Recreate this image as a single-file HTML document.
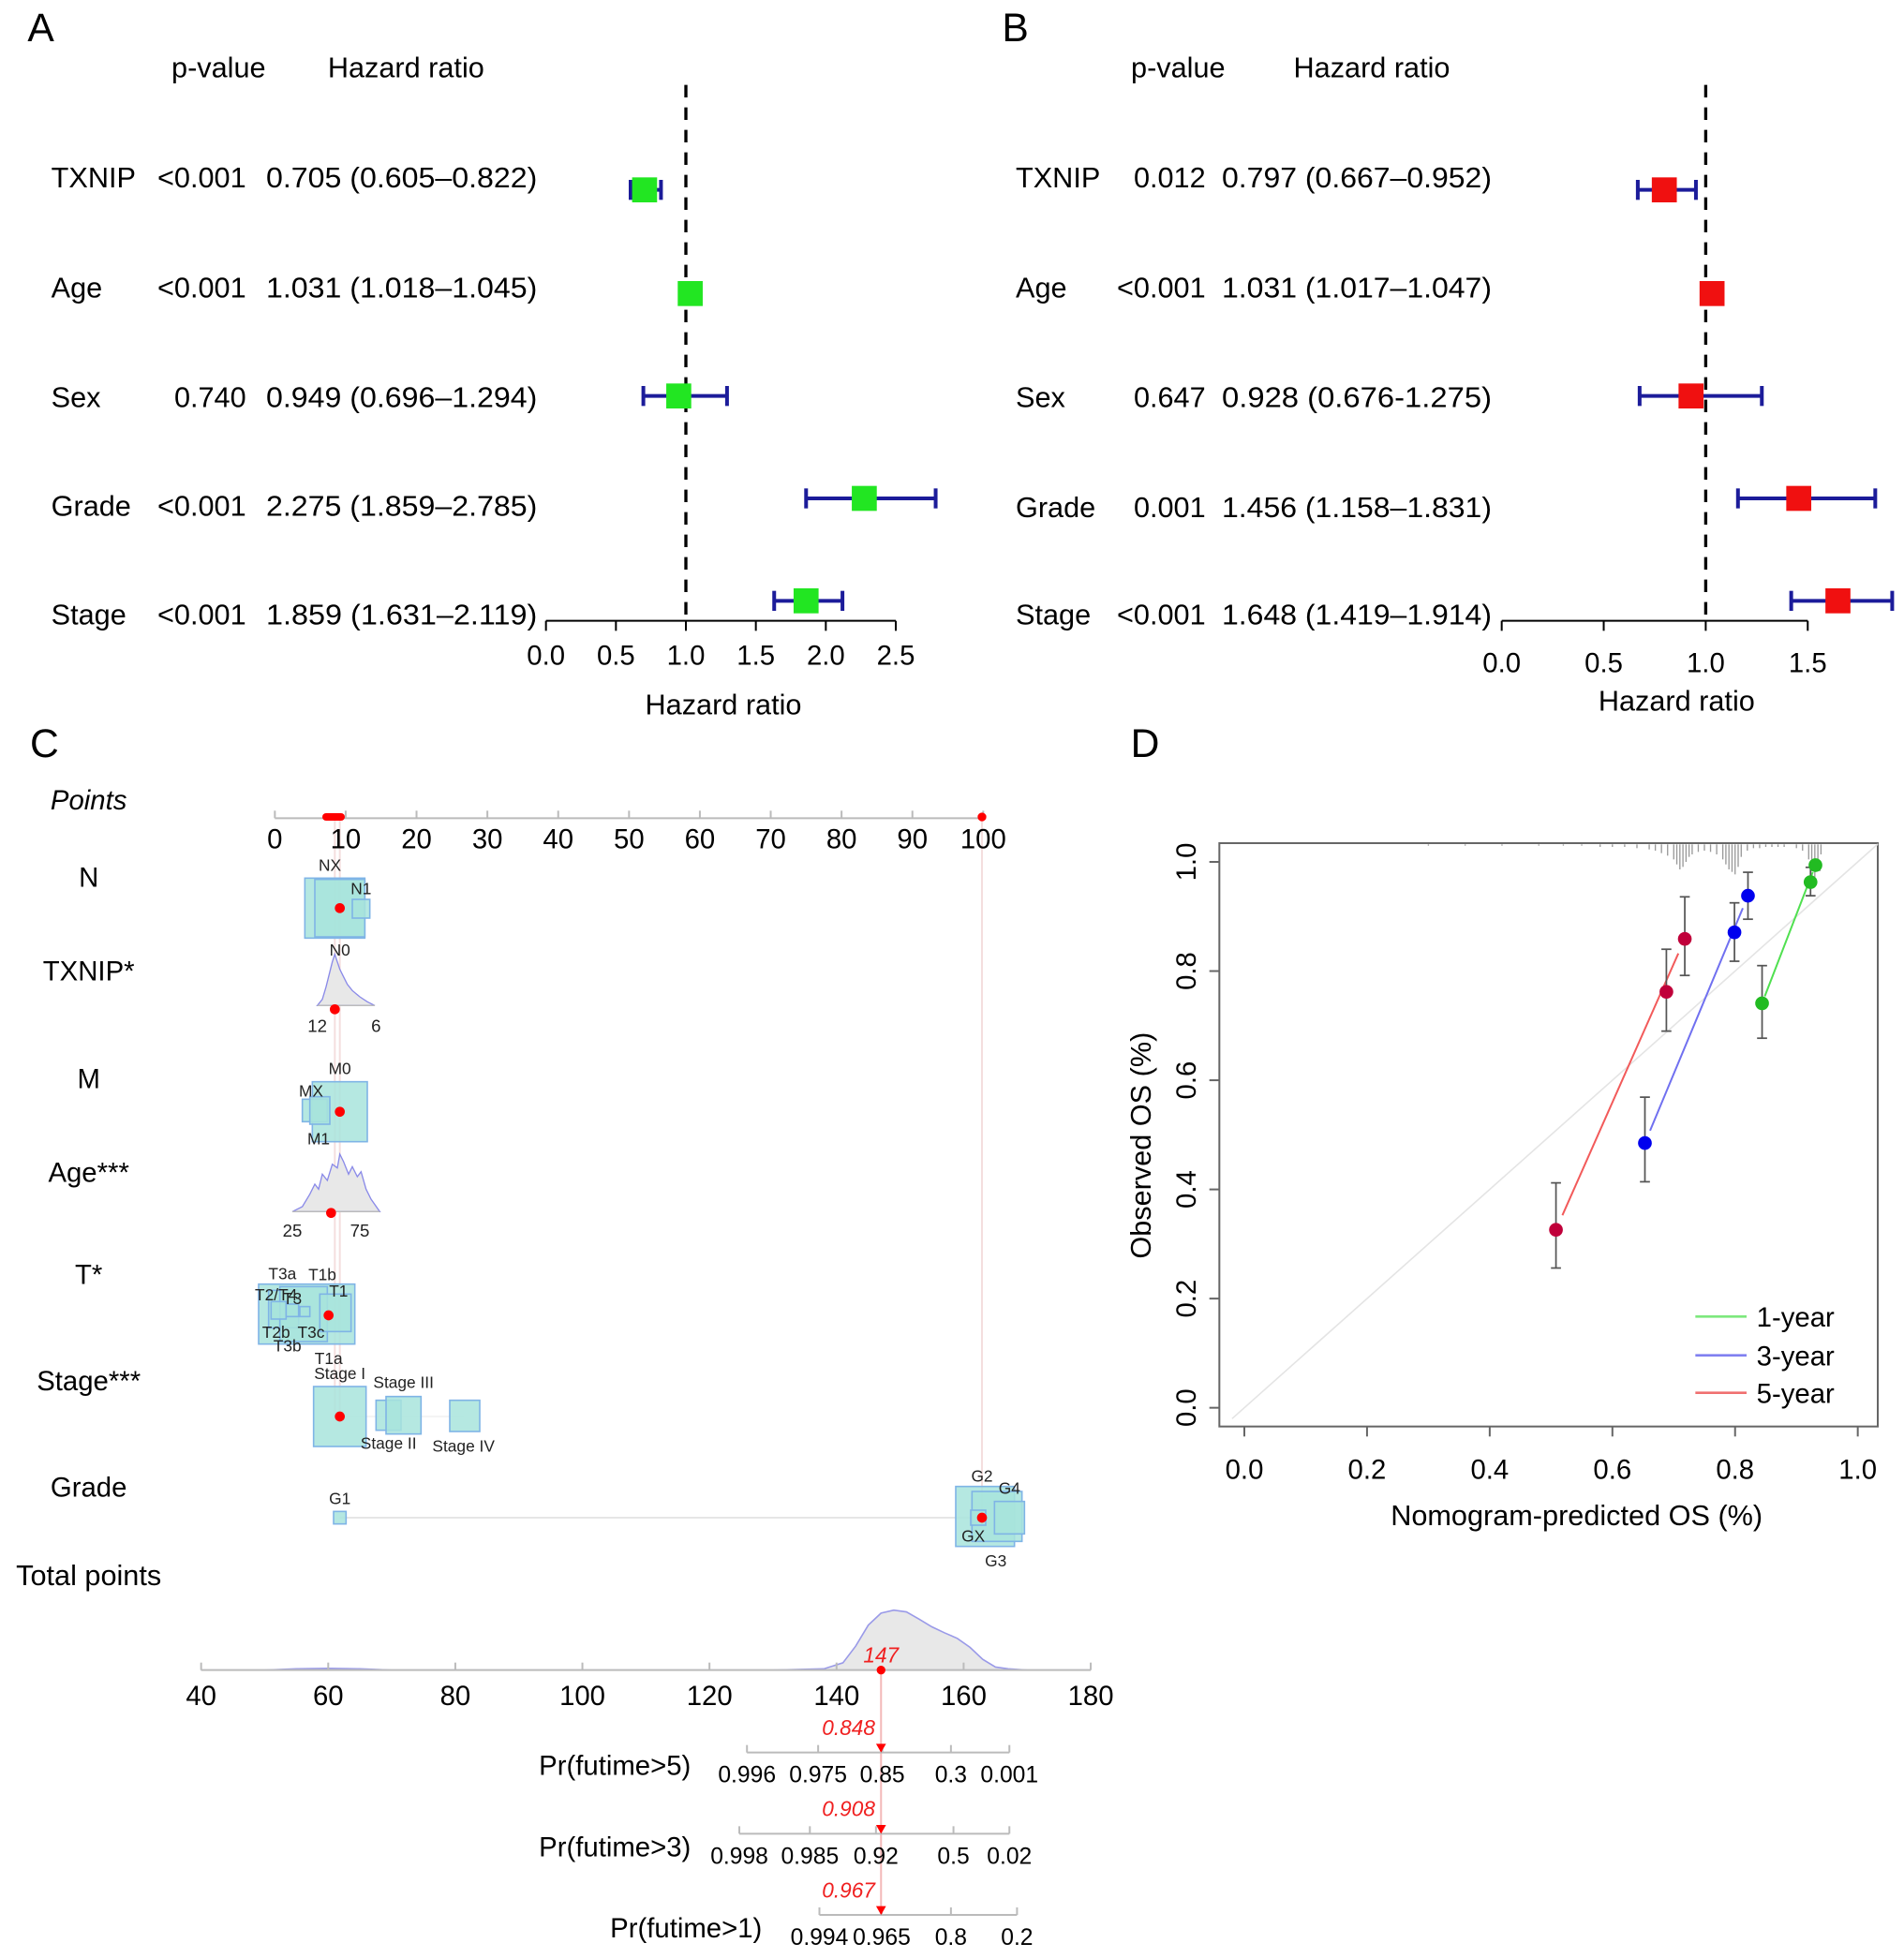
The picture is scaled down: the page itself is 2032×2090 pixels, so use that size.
<!DOCTYPE html>
<html><head><meta charset="utf-8"><style>
html,body{margin:0;padding:0;background:#fff}
svg{display:block;font-family:"Liberation Sans",Arial,sans-serif}
</style></head><body>
<svg id="fig" xmlns="http://www.w3.org/2000/svg" width="2032" height="2090" viewBox="0 0 1524 1567.5">
<g id="pA"></g>
<g id="pB"></g>
<g id="pC"></g>
<g id="pD"></g>
</svg>
<script>
// ---------- data ----------
const varsAB = ["TXNIP","Age","Sex","Grade","Stage"];
const pA = ["<0.001","<0.001","0.740","<0.001","<0.001"];
const hrA = [0.705,1.031,0.949,2.275,1.859];
const loA = [0.605,1.018,0.696,1.859,1.631];
const hiA = [0.822,1.045,1.294,2.785,2.119];
const ticksA = [0,0.5,1,1.5,2,2.5];
const pB = ["0.012","<0.001","0.647","0.001","<0.001"];
const hrB = [0.797,1.031,0.928,1.456,1.648];
const loB = [0.667,1.017,0.676,1.158,1.419];
const hiB = [0.952,1.047,1.275,1.831,1.914];
const ticksB = [0,0.5,1,1.5];

const pointsTicks = [0,10,20,30,40,50,60,70,80,90,100];
const totalTicks = [40,60,80,100,120,140,160,180];
const totalDensX = [40,50,55,60,65,70,100,130,138,141,143,145,147,149,151,153,155,157,159,161,163,165,167,170,180];
const totalDensY = [0,0,0.02,0.03,0.02,0,0,0,0.02,0.12,0.4,0.75,0.95,1.0,0.97,0.85,0.72,0.62,0.53,0.38,0.18,0.05,0.02,0,0];
const totalScore = [147];
const probLabels = ["Pr(futime>5)","Pr(futime>3)","Pr(futime>1)"];
const probTickLabels = [["0.996","0.975","0.85","0.3","0.001"],["0.998","0.985","0.92","0.5","0.02"],["0.994","0.965","0.8","0.2"]];
const probTickTotals = [[125.9,137.1,147.2,158.0,167.2],[124.7,135.8,146.2,158.4,167.2],[137.3,147.1,158.0,168.4]];
const probValues = ["0.848","0.908","0.967"];

const calX1 = [0.844,0.923,0.931], calY1 = [0.741,0.963,0.994], calLo1 = [0.677,0.938,0.985], calHi1 = [0.81,0.99,1.0];
const calX3 = [0.653,0.799,0.821], calY3 = [0.485,0.871,0.938], calLo3 = [0.414,0.818,0.895], calHi3 = [0.569,0.925,0.981];
const calX5 = [0.508,0.688,0.718], calY5 = [0.326,0.762,0.859], calLo5 = [0.256,0.69,0.792], calHi5 = [0.412,0.84,0.936];
const calTicks = [0,0.2,0.4,0.6,0.8,1.0];
const rugX = [0.30,0.36,0.42,0.48,0.52,0.55,0.58,0.6,0.62,0.64,0.66,0.67,0.68,0.69,0.7,0.705,0.71,0.715,0.72,0.725,0.73,0.74,0.75,0.76,0.77,0.78,0.785,0.79,0.795,0.8,0.805,0.81,0.82,0.83,0.84,0.85,0.86,0.87,0.88,0.9,0.91,0.92,0.925,0.93,0.935,0.94];
const rugH = [1,1,1,1,1,1,2,2,2,3,4,5,7,9,12,16,20,18,14,10,8,6,5,6,8,12,16,20,22,24,18,10,5,3,3,2,2,2,2,3,5,12,20,26,20,8];

// ---------- helpers ----------
const NS="http://www.w3.org/2000/svg";
function mk(parent,tag,attrs,text){const e=document.createElementNS(NS,tag);for(const k in attrs)e.setAttribute(k,attrs[k]);if(text!==undefined)e.textContent=text;parent.appendChild(e);return e;}

// ---------- forest plots ----------
function forest(g,cfg){
  const sx=v=>cfg.x0+v*cfg.ppu;
  const t1=mk(g,'text',{x:cfg.pCol-22,y:62,'font-size':23,'text-anchor':'middle'},'p-value');
  
  
  const t2=mk(g,'text',{x:cfg.hrHead,y:62,'font-size':23,'text-anchor':'middle'},'Hazard ratio');
  
  
  const dl=mk(g,'line',{x1:sx(1),x2:sx(1),y1:68,y2:497,stroke:'#000','stroke-width':2.5,'stroke-dasharray':'10,8'});
  
  
  const ax=mk(g,'line',{x1:sx(0),x2:sx(cfg.ticks[cfg.ticks.length-1]),y1:497,y2:497,stroke:'#000','stroke-width':1.5});
  
  
  cfg.ticks.forEach(t=>{
    mk(g,'line',{x1:sx(t),x2:sx(t),y1:497,y2:505,stroke:'#000','stroke-width':1.5});
    const tl=mk(g,'text',{x:sx(t),y:cfg.tickY,'font-size':22,'text-anchor':'middle'},t.toFixed(1));
    
    
  });
  const xt=mk(g,'text',{x:cfg.titleX,y:cfg.titleY,'font-size':23,'text-anchor':'middle'},'Hazard ratio');
  
  
  varsAB.forEach((v,i)=>{
    const ty=cfg.textY[i], my=cfg.markY[i];
    const a=mk(g,'text',{x:cfg.labX,y:ty,'font-size':23},v);
    
    
    const b=mk(g,'text',{x:cfg.pCol,y:ty,'font-size':23,'text-anchor':'end'},cfg.p[i]);
    
    
    const sep=cfg.sep;
    const s=cfg.hr[i].toFixed(3)+' ('+cfg.lo[i].toFixed(3)+(sep[i])+cfg.hi[i].toFixed(3)+')';
    const c=mk(g,'text',{x:cfg.hrCol,y:ty,'font-size':23,textLength:cfg.hrLen,lengthAdjust:'spacingAndGlyphs'},s);
    
    
    const eb=mk(g,'g',{});
    
    
    mk(eb,'line',{x1:sx(cfg.lo[i]),x2:sx(cfg.hi[i]),y1:my,y2:my,stroke:'#1c1c9a','stroke-width':3});
    mk(eb,'line',{x1:sx(cfg.lo[i]),x2:sx(cfg.lo[i]),y1:my-8,y2:my+8,stroke:'#1c1c9a','stroke-width':3});
    mk(eb,'line',{x1:sx(cfg.hi[i]),x2:sx(cfg.hi[i]),y1:my-8,y2:my+8,stroke:'#1c1c9a','stroke-width':3});
    const m=mk(g,'rect',{x:sx(cfg.hr[i])-10,y:my-10,width:20,height:20,fill:cfg.col});
    
    
  });
}
const gA=document.getElementById('pA'), gB=document.getElementById('pB');
const la=mk(gA,'text',{x:22,y:33,'font-size':32},'A');


const lb=mk(gB,'text',{x:802,y:33,'font-size':32},'B');


forest(gA,{x0:437,ppu:112,ticks:ticksA,tickY:532,titleX:579,titleY:572,labX:41,pCol:197,hrCol:213,hrLen:217,hrHead:325,
  textY:[150,238,326,413,500],markY:[152,235,317,399,481],p:pA,hr:hrA,lo:loA,hi:hiA,col:'#22e622',sep:['–','–','–','–','–']});
forest(gB,{x0:1202,ppu:163.3,ticks:ticksB,tickY:538,titleX:1342,titleY:569,labX:813,pCol:965,hrCol:978,hrLen:216,hrHead:1098,
  textY:[150,238,326,414,500],markY:[152,235,317,399,481],p:pB,hr:hrB,lo:loB,hi:hiB,col:'#f01010',sep:['–','–','-','–','–']});

// ---------- nomogram ----------
const gC=document.getElementById('pC');
const lc=mk(gC,'text',{x:24,y:606,'font-size':32},'C');


const px=v=>220+v*5.67;
const tx=v=>161+(v-40)*5.086;
[['Points',71,648,true],['N',71,710],['TXNIP*',71,785],['M',71,871],['Age***',71,946],['T*',71,1028],['Stage***',71,1113],['Grade',71,1198],['Total points',71,1269]].forEach(r=>{
  const t=mk(gC,'text',{x:r[1],y:r[2],'font-size':r[0]==='Total points'?23:22,'text-anchor':'middle','font-style':r[3]?'italic':'normal'},r[0]);
  
  
});
mk(gC,'line',{x1:786,x2:786,y1:655,y2:1215,stroke:'#f4dede','stroke-width':1.5});
mk(gC,'line',{x1:268,x2:268,y1:655,y2:1134,stroke:'#f4dede','stroke-width':1.5});
mk(gC,'line',{x1:272,x2:272,y1:655,y2:1134,stroke:'#f4dede','stroke-width':1.5});
const pax=mk(gC,'line',{x1:px(0),x2:px(100),y1:655,y2:655,stroke:'#bbb','stroke-width':1.5});


pointsTicks.forEach(t=>{
  mk(gC,'line',{x1:px(t),x2:px(t),y1:655,y2:649,stroke:'#bbb','stroke-width':1.5});
  const tl=mk(gC,'text',{x:px(t),y:679,'font-size':22,'text-anchor':'middle'},String(t));
  
  
});
mk(gC,'line',{x1:261,x2:273,y1:654,y2:654,stroke:'#f00','stroke-width':6,'stroke-linecap':'round'});
mk(gC,'circle',{cx:786,cy:654,r:3.5,fill:'#f00'});
function box(x,y,w,h){const r=mk(gC,'rect',{x:x,y:y,width:w,height:h,fill:'#a8e4dc',stroke:'#7fb4e6','stroke-width':1.2,'fill-opacity':0.85});return r;}
function lab(x,y,s,fs){const t=mk(gC,'text',{x:x,y:y,'font-size':fs||13,'text-anchor':'middle',fill:'#222'},s);return t;}
function dot(x,y){const c=mk(gC,'circle',{cx:x,cy:y,r:4,fill:'#f00'});}
box(244,703,48,48);box(252,704,40,46);box(282,720,14,15);lab(264,697,'NX');lab(289,716,'N1');dot(272,727);
mk(gC,'path',{d:'M254,805 L258,800 L261,790 L264,778 L266,770 L268,764 L270,770 L272,776 L275,782 L278,788 L282,793 L288,798 L294,802 L300,805 Z',fill:'#e8e8e8',stroke:'#8a8ae8','stroke-width':1});
mk(gC,'line',{x1:254,x2:300,y1:805,y2:805,stroke:'#bbb'});
lab(272,765,'N0');lab(254,826,'12',14);lab(301,826,'6',14);dot(268,808);
box(250,866,44,48);box(242,880,20,18);box(248,878,16,22);lab(272,860,'M0');lab(249,878,'MX');lab(255,916,'M1');dot(272,890);
mk(gC,'path',{d:'M234,970 L242,966 L248,956 L252,948 L255,952 L258,940 L262,945 L266,932 L270,935 L272,924 L275,930 L279,940 L282,934 L286,942 L289,938 L293,952 L297,960 L304,970 Z',fill:'#e8e8e8',stroke:'#8a8ae8','stroke-width':1});
mk(gC,'line',{x1:234,x2:304,y1:970,y2:970,stroke:'#bbb'});
lab(234,990,'25',14);lab(288,990,'75',14);dot(265,971);
box(207,1028,77,48);box(215,1033,24,30);box(224,1030,38,44);box(256,1036,25,30);box(217,1042,12,14);box(229,1044,10,10);box(240,1046,8,8);
lab(226,1024,'T3a');lab(258,1025,'T1b');lab(271,1038,'T1');lab(221,1041,'T2/T4');lab(234,1044,'T3');lab(221,1071,'T2b');lab(230,1082,'T3b');lab(249,1071,'T3c');lab(263,1092,'T1a');dot(263,1053);
mk(gC,'line',{x1:272,x2:371,y1:1134,y2:1134,stroke:'#eee'});
box(251,1110,42,48);box(301,1121,20,24);box(309,1118,28,30);box(360,1121,24,25);
lab(272,1104,'Stage I');lab(323,1111,'Stage III');lab(311,1160,'Stage II');lab(371,1162,'Stage IV');dot(272,1134);
mk(gC,'line',{x1:272,x2:786,y1:1215,y2:1215,stroke:'#e6e6e6','stroke-width':1.5});
box(267,1210,10,10);box(765,1190,47,48);box(778,1194,40,40);box(796,1202,24,26);box(777,1209,12,12);
lab(272,1204,'G1');lab(786,1186,'G2');lab(808,1196,'G4');lab(779,1234,'GX');lab(797,1254,'G3');dot(786,1215);
let dpath='';
totalDensX.forEach((v,i)=>{dpath+=(i?'L':'M')+tx(v).toFixed(1)+','+(1337-totalDensY[i]*48).toFixed(1)+' ';});
const dens=mk(gC,'path',{d:dpath+'Z',fill:'#e8e8e8',stroke:'#9a9ae8','stroke-width':1.2});


const tax=mk(gC,'line',{x1:tx(40),x2:tx(180),y1:1337,y2:1337,stroke:'#bbb','stroke-width':1.5});


totalTicks.forEach(t=>{
  mk(gC,'line',{x1:tx(t),x2:tx(t),y1:1337,y2:1331,stroke:'#bbb','stroke-width':1.5});
  const tl=mk(gC,'text',{x:tx(t),y:1365,'font-size':22,'text-anchor':'middle'},String(t));
  
  
});
const sX=tx(totalScore[0]);
mk(gC,'line',{x1:sX,x2:sX,y1:1337,y2:1533,stroke:'#f3b8b8','stroke-width':1.5});
mk(gC,'circle',{cx:sX,cy:1337,r:3.5,fill:'#f00'});
const sl=mk(gC,'text',{x:sX,y:1331,'font-size':17,'text-anchor':'middle','font-style':'italic',fill:'#f02020'},String(totalScore[0]));


const prY=[1403,1468,1533], prLabX=[553,553,610];
probLabels.forEach((p,k)=>{
  const y=prY[k];
  const tt=probTickTotals[k];
  const lbl=mk(gC,'text',{x:prLabX[k],y:y+18,'font-size':22,'text-anchor':'end'},p);
  
  
  const al=mk(gC,'line',{x1:tx(tt[0]),x2:tx(tt[tt.length-1]),y1:y,y2:y,stroke:'#bbb','stroke-width':1.5});
  
  
  tt.forEach((v,j)=>{
    mk(gC,'line',{x1:tx(v),x2:tx(v),y1:y,y2:y-6,stroke:'#bbb','stroke-width':1.5});
    const tl=mk(gC,'text',{x:tx(v),y:y+24,'font-size':18.5,'text-anchor':'middle'},probTickLabels[k][j]);
    
    
  });
  mk(gC,'path',{d:`M${sX-4},${y-7} L${sX+4},${y-7} L${sX},${y} Z`,fill:'#f00'});
  const pv=mk(gC,'text',{x:sX-26,y:y-14,'font-size':17,'text-anchor':'middle','font-style':'italic',fill:'#f02020'},probValues[k]);
  
  
});

// ---------- calibration ----------
const gD=document.getElementById('pD');
const ld=mk(gD,'text',{x:905,y:606,'font-size':32},'D');


const dx=v=>996+v*491, dy=v=>1127-v*437;
const frame=mk(gD,'rect',{x:976,y:675,width:527,height:467,fill:'none',stroke:'#666','stroke-width':1.5});


const diag=mk(gD,'line',{x1:dx(-0.02),y1:dy(-0.02),x2:1503,y2:dy((1503-996)/491),stroke:'#e4e4e4','stroke-width':1.2});


rugX.forEach((v,i)=>{
  const r=mk(gD,'line',{x1:dx(v),x2:dx(v),y1:676,y2:676+rugH[i],stroke:'#999','stroke-width':1});
  
  
});
calTicks.forEach(t=>{
  mk(gD,'line',{x1:dx(t),x2:dx(t),y1:1142,y2:1150,stroke:'#666','stroke-width':1.5});
  const xl=mk(gD,'text',{x:dx(t),y:1184,'font-size':22,'text-anchor':'middle'},t.toFixed(1));
  
  
  mk(gD,'line',{x1:968,x2:976,y1:dy(t),y2:dy(t),stroke:'#666','stroke-width':1.5});
  const yl=mk(gD,'text',{x:0,y:0,'font-size':22,'text-anchor':'middle',transform:`translate(957,${dy(t)}) rotate(-90)`},t.toFixed(1));
  
  
});
const xtt=mk(gD,'text',{x:1262,y:1221,'font-size':23,'text-anchor':'middle'},'Nomogram-predicted OS (%)');


const ytt=mk(gD,'text',{x:0,y:0,'font-size':23,'text-anchor':'middle',transform:'translate(921,917) rotate(-90)'},'Observed OS (%)');


function series(xs,ys,lo,hi,lineCol,ptCol,name){
  const g=mk(gD,'g',{});
  
  
  const n=xs.length-1;
  const x0=xs[0]+(xs[n]-xs[0])*0.05,y0=ys[0]+(ys[n]-ys[0])*0.05,x1=xs[0]+(xs[n]-xs[0])*0.95,y1=ys[0]+(ys[n]-ys[0])*0.95;
  mk(g,'line',{x1:dx(x0),y1:dy(y0),x2:dx(x1),y2:dy(y1),stroke:lineCol,'stroke-width':1.5});
  xs.forEach((v,i)=>{
    mk(g,'line',{x1:dx(v),x2:dx(v),y1:dy(lo[i]),y2:dy(hi[i]),stroke:'#555','stroke-width':1.3});
    mk(g,'line',{x1:dx(v)-4,x2:dx(v)+4,y1:dy(lo[i]),y2:dy(lo[i]),stroke:'#555','stroke-width':1.3});
    mk(g,'line',{x1:dx(v)-4,x2:dx(v)+4,y1:dy(hi[i]),y2:dy(hi[i]),stroke:'#555','stroke-width':1.3});
    const c=mk(g,'circle',{cx:dx(v),cy:dy(ys[i]),r:5.5,fill:ptCol});
    
    
  });
}
series(calX5,calY5,calLo5,calHi5,'#f25a5a','#c0003a','series-5-year');
series(calX3,calY3,calLo3,calHi3,'#7070f0','#0000ee','series-3-year');
series(calX1,calY1,calLo1,calHi1,'#50e050','#22bb22','series-1-year');
[['1-year','#7de87d',1054],['3-year','#8080f0',1085],['5-year','#f07070',1115]].forEach(l=>{
  const g=mk(gD,'g',{});
  
  
  mk(g,'line',{x1:1357,x2:1398,y1:l[2],y2:l[2],stroke:l[1],'stroke-width':2});
  mk(g,'text',{x:1406,y:l[2]+8,'font-size':22},l[0]);
});
</script>
</body></html>
